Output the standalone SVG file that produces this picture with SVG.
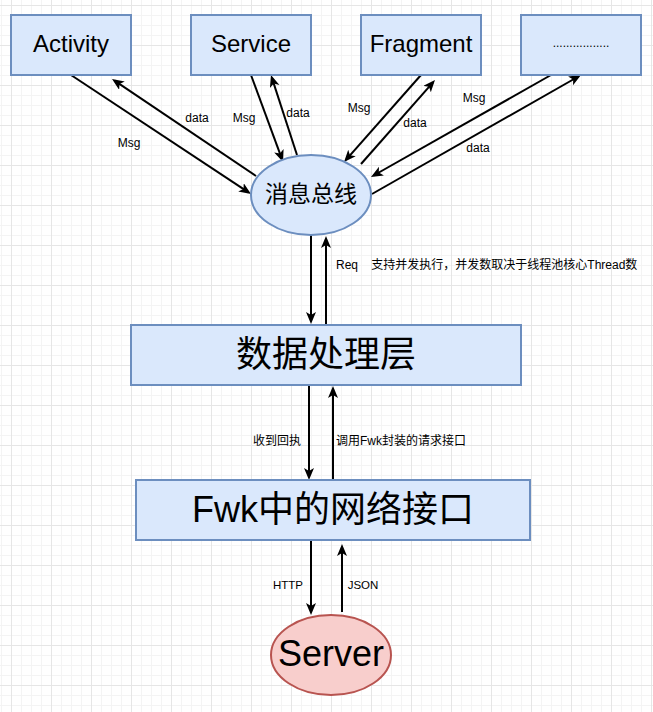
<svg xmlns="http://www.w3.org/2000/svg" width="653" height="712" viewBox="0 0 653 712">
<style>
.box{fill:#dae8fc;stroke:#6c8ebf;stroke-width:2}
.srv{fill:#f8cecc;stroke:#b85450;stroke-width:2}
.ln{stroke:#000;stroke-width:2;fill:none;marker-end:url(#ah)}
.big{font-family:"Liberation Sans","Noto Sans CJK SC",sans-serif;font-size:24px;fill:#000;text-anchor:middle}
.huge{font-family:"Liberation Sans","Noto Sans CJK SC",sans-serif;font-size:36px;fill:#000;text-anchor:middle}
.lbl{font-family:"Liberation Sans","Noto Sans CJK SC",sans-serif;font-size:12px;fill:#000;white-space:pre}
.mid{text-anchor:middle}
</style>
<defs>
<pattern id="grid" x="11" y="5" width="40" height="40" patternUnits="userSpaceOnUse">
<rect width="40" height="40" fill="#ffffff"/>
<g fill="#f4f4f4">
<rect x="10" y="0" width="1" height="40"/><rect x="20" y="0" width="1" height="40"/><rect x="30" y="0" width="1" height="40"/>
<rect x="0" y="10" width="40" height="1"/><rect x="0" y="20" width="40" height="1"/><rect x="0" y="30" width="40" height="1"/>
</g>
<g fill="#e6e6e6">
<rect x="0" y="0" width="1" height="40"/><rect x="0" y="0" width="40" height="1"/>
</g>
</pattern>
<marker id="ah" markerUnits="userSpaceOnUse" markerWidth="14" markerHeight="12" viewBox="0 0 14 12" refX="9" refY="5" orient="auto">
<path d="M0,0 L12,5 L0,10 L3,5 Z" fill="#000"/>
</marker>
</defs>
<rect width="653" height="712" fill="url(#grid)"/>

<g id="connectors">
<line class="ln" x1="71" y1="75" x2="248.5" y2="192.3"/>
<line class="ln" x1="256" y1="176" x2="114.5" y2="80.7"/>
<line class="ln" x1="251" y1="75" x2="282" y2="159.2"/>
<line class="ln" x1="297" y1="155" x2="271.9" y2="77.9"/>
<line class="ln" x1="421" y1="75" x2="346" y2="159.8"/>
<line class="ln" x1="361" y1="164" x2="433" y2="82.3"/>
<line class="ln" x1="551" y1="75" x2="373.6" y2="175.5"/>
<line class="ln" x1="372" y1="194" x2="578.4" y2="76.5"/>
<line class="ln" x1="311" y1="235" x2="311" y2="321"/>
<line class="ln" x1="326" y1="325" x2="326" y2="239"/>
<line class="ln" x1="309" y1="385" x2="309" y2="477"/>
<line class="ln" x1="333" y1="480" x2="333" y2="389"/>
<line class="ln" x1="311" y1="540" x2="311" y2="612"/>
<line class="ln" x1="342" y1="612" x2="342" y2="547"/>
<text class="lbl mid" x="197" y="122">data</text>
<text class="lbl mid" x="129" y="147">Msg</text>
<text class="lbl mid" x="244" y="122">Msg</text>
<text class="lbl mid" x="298" y="117">data</text>
<text class="lbl mid" x="359" y="112">Msg</text>
<text class="lbl mid" x="415" y="127">data</text>
<text class="lbl mid" x="474" y="102">Msg</text>
<text class="lbl mid" x="478" y="152">data</text>
<text class="lbl" x="336" y="269">Req    支持并发执行，并发数取决于线程池核心Thread数</text>
<text class="lbl" x="253" y="445">收到回执</text>
<text class="lbl" x="336" y="445">调用Fwk封装的请求接口</text>
<text class="lbl mid" x="288" y="589" style="font-size:11.5px">HTTP</text>
<text class="lbl mid" x="363" y="589" style="font-size:11.5px">JSON</text>
</g>

<g id="activity"><rect class="box" x="11" y="15" width="120" height="60"/><text class="big" x="71" y="52">Activity</text></g>
<g id="service"><rect class="box" x="191" y="15" width="120" height="60"/><text class="big" x="251" y="52">Service</text></g>
<g id="fragment"><rect class="box" x="361" y="15" width="120" height="60"/><text class="big" x="421" y="52">Fragment</text></g>
<g id="more"><rect class="box" x="521" y="15" width="120" height="60"/><text class="lbl mid" x="581" y="47">.................</text></g>
<g id="bus"><ellipse class="box" cx="311" cy="195" rx="60" ry="40"/><text class="big" x="311" y="202" style="font-size:23px">消息总线</text></g>
<g id="data-layer"><rect class="box" x="131" y="325" width="390" height="60"/><text class="huge" x="326" y="367">数据处理层</text></g>
<g id="fwk"><rect class="box" x="136" y="480" width="394" height="60"/><text class="huge" x="333" y="522">Fwk中的网络接口</text></g>
<g id="server"><ellipse class="srv" cx="331" cy="655" rx="60" ry="40"/><text class="huge" x="331" y="666">Server</text></g>
</svg>
